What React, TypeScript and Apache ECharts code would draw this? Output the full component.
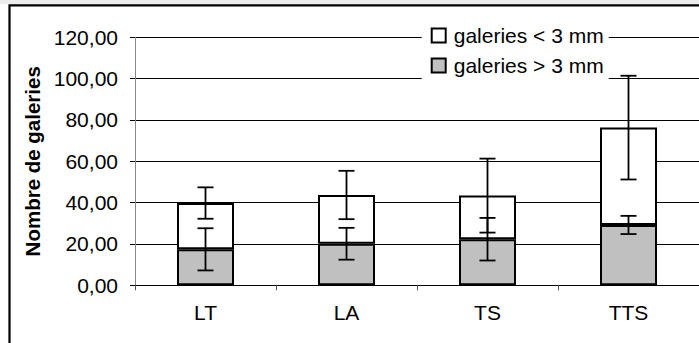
import React, { useEffect, useRef } from "react";
import * as echarts from "echarts";

const categories = ["LT", "LA", "TS", "TTS"];
const largeGalleries = [17.4, 20.1, 22.3, 29.2]; // galeries > 3 mm
const smallGalleries = [22.4, 23.6, 21.1, 47.1]; // galeries < 3 mm (stacked on top)
const largeErr = [10.2, 7.7, 10.3, 4.4];
const smallErr = [7.6, 11.7, 17.9, 25.1];
const yTicks = { min: 0, max: 120, interval: 20 };
const seriesNames = ["galeries < 3 mm", "galeries > 3 mm"];

const FONT = "'Liberation Sans', Arial, sans-serif";

export default function App() {
  const ref = useRef<HTMLDivElement>(null);
  useEffect(() => {
    document.body.style.margin = "0";
    const chart = echarts.init(ref.current!, null, { renderer: "svg" });
    const totals = largeGalleries.map((v, i) => v + smallGalleries[i]);
    const errData = [
      ...largeGalleries.map((v, i) => [i, v, largeErr[i]]),
      ...totals.map((v, i) => [i, v, smallErr[i]]),
    ];
    const renderErr = (params: any, api: any) => {
      const idx = api.value(0);
      const c = api.value(1);
      const e = api.value(2);
      const top = api.coord([idx, c + e]);
      const bot = api.coord([idx, c - e]);
      const half = 8;
      const style = { stroke: "#000", lineWidth: 1.8 };
      return {
        type: "group",
        children: [
          { type: "line", shape: { x1: top[0], y1: top[1], x2: bot[0], y2: bot[1] }, style },
          { type: "line", shape: { x1: top[0] - half, y1: top[1], x2: top[0] + half, y2: top[1] }, style },
          { type: "line", shape: { x1: bot[0] - half, y1: bot[1], x2: bot[0] + half, y2: bot[1] }, style },
        ],
      };
    };
    chart.setOption({
      animation: false,
      textStyle: { fontFamily: FONT },
      grid: { left: 135, top: 37.3, width: 564, height: 248 },
      legend: {
        orient: "vertical",
        left: 421.7,
        top: 19,
        padding: [6, 5, 7, 9],
        backgroundColor: "#fff",
        itemWidth: 14,
        itemHeight: 14,
        itemGap: 9,
        data: [
          { name: seriesNames[0], icon: "rect" },
          { name: seriesNames[1], icon: "rect" },
        ],
        textStyle: { fontSize: 21, color: "#000", fontFamily: FONT, padding: [0, 0, 0, 3] },
      },
      xAxis: {
        type: "category",
        data: categories,
        axisLine: { lineStyle: { color: "#000", width: 1 } },
        axisTick: { show: true, length: 5, lineStyle: { color: "#555" } },
        axisLabel: { fontSize: 21, color: "#000", margin: 17, fontFamily: FONT },
        splitLine: { show: false },
      },
      yAxis: {
        type: "value",
        min: yTicks.min,
        max: yTicks.max,
        interval: yTicks.interval,
        name: "Nombre de galeries",
        nameLocation: "middle",
        nameRotate: 90,
        nameGap: 83,
        nameTextStyle: { fontSize: 20.5, fontWeight: "bold", color: "#000", fontFamily: FONT },
        axisLine: { show: true, lineStyle: { color: "#888", width: 1 } },
        axisTick: { show: true, length: 5, lineStyle: { color: "#000" } },
        axisLabel: {
          fontSize: 21,
          color: "#000",
          margin: 17,
          fontFamily: FONT,
          formatter: (v: number) => v.toFixed(2).replace(".", ","),
        },
        splitLine: { show: true, lineStyle: { color: "#000", width: 1 } },
      },
      series: [
        {
          name: seriesNames[1],
          type: "bar",
          stack: "total",
          barWidth: 57,
          data: largeGalleries,
          itemStyle: { color: "#c0c0c0", borderColor: "#000", borderWidth: 2 },
        },
        {
          name: seriesNames[0],
          type: "bar",
          stack: "total",
          barWidth: 57,
          data: smallGalleries,
          itemStyle: { color: "#fff", borderColor: "#000", borderWidth: 2 },
        },
        {
          type: "custom",
          renderItem: renderErr,
          data: errData,
          encode: { x: 0, y: 1 },
          z: 10,
          silent: true,
        },
      ],
      graphic: [
        { type: "rect", shape: { x: 0, y: 0, width: 699, height: 4 }, style: { fill: "#ececec" }, z: -1 },
        {
          type: "rect",
          shape: { x: 9.5, y: 5.3, width: 720, height: 360 },
          style: { fill: "none", stroke: "#000", lineWidth: 2.2 },
        },
      ],
    });
    return () => chart.dispose();
  }, []);
  return <div ref={ref} style={{ width: 699, height: 343 }} />;
}
